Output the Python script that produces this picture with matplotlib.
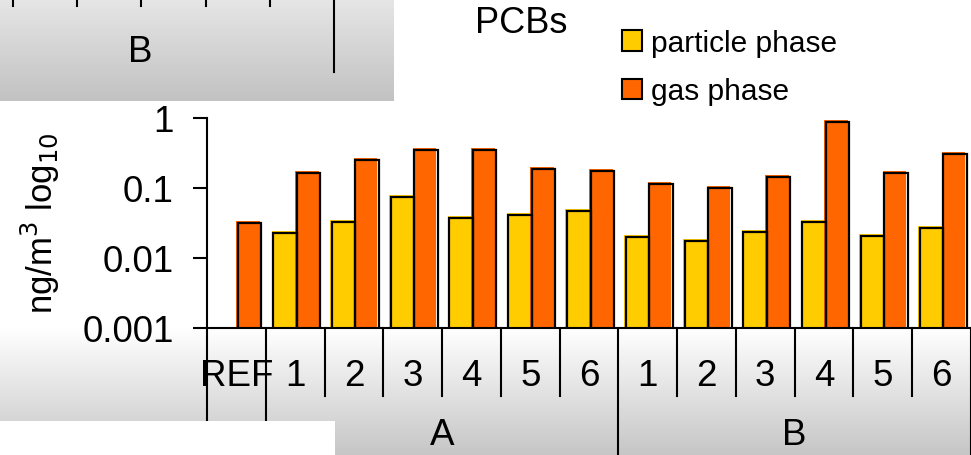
import numpy as np
import matplotlib
matplotlib.use("Agg")
import matplotlib.pyplot as plt
from matplotlib import transforms
from matplotlib.colors import LinearSegmentedColormap
from matplotlib.patches import Rectangle, Patch

plt.rcParams['font.family'] = ['Liberation Sans', 'DejaVu Sans']

# data (ng/m3)
categories = ["REF", "1", "2", "3", "4", "5", "6", "1", "2", "3", "4", "5", "6"]
groups = ["A", "B"]
group_first = [1, 7]
group_last = [6, 12]
particle_phase = [np.nan, 0.0233, 0.0341, 0.0776, 0.0394, 0.0425, 0.0485,
                  0.0200, 0.0175, 0.0243, 0.0338, 0.0213, 0.0277]
gas_phase = [0.0341, 0.177, 0.266, 0.369, 0.369, 0.197, 0.187,
             0.122, 0.107, 0.153, 0.936, 0.175, 0.327]
y_ticks = [0.001, 0.01, 0.1, 1]
y_tick_labels = ["0.001", "0.01", "0.1", "1"]

yellow = "#FFCC00"
orange = "#FF6600"

fig = plt.figure(figsize=(9.71, 4.56), dpi=100)

# background layer in pixel coords (grey gradient boxes + stray fragment)
bg = fig.add_axes([0, 0, 1, 1], zorder=-1)
bg.set_xlim(0, 971)
bg.set_ylim(456, 0)
bg.axis('off')
grad = np.linspace(0, 1, 256).reshape(-1, 1)
cm_top = LinearSegmentedColormap.from_list("top", ["#e6e6e6", "#c2c2c2"])
cm_bot = LinearSegmentedColormap.from_list("bot", ["#ffffff", "#c6c6c6"])
bg.imshow(grad, extent=(0, 394, 102, 0), cmap=cm_top, aspect='auto')
bg.imshow(grad, extent=(0, 971, 456, 329), cmap=cm_bot, aspect='auto')
for xt in [13, 77, 141, 206, 270]:
    bg.plot([xt, xt], [0, 7], color='black', lw=1.5)
bg.plot([334, 334], [0, 73], color='black', lw=1.5)
bg.text(140, 52, "B", fontsize=26.5, ha='center', va='center')

ax = fig.add_axes([207 / 971, 1 - 329 / 456, 764 / 971, 210 / 456])
ax.patch.set_alpha(0)

x = np.arange(len(categories))
w = 0.4
shadow = transforms.offset_copy(ax.transData, fig=fig, x=1.5, y=-2, units='dots')

ax.bar(x - w / 2, particle_phase, w, bottom=0.001, color=yellow, zorder=2)
ax.bar(x + w / 2, np.array(gas_phase) - 0.001, w, bottom=0.001, color=orange, zorder=2)
ax.bar(x - w / 2, particle_phase, w, bottom=0.001, facecolor='none',
       edgecolor='black', lw=1.6, zorder=3, transform=shadow)
ax.bar(x + w / 2, np.array(gas_phase) - 0.001, w, bottom=0.001, facecolor='none',
       edgecolor='black', lw=1.6, zorder=3, transform=shadow)

ax.set_yscale('log')
ax.set_ylim(0.001, 1)
ax.set_xlim(-0.5, len(categories) - 0.5)
ax.set_yticks(y_ticks, y_tick_labels)
ax.minorticks_off()
ax.tick_params(axis='y', labelsize=26.5, length=10, width=1.5, pad=14)
ax.set_xticks([])
for s in ['top', 'right']:
    ax.spines[s].set_visible(False)
for s in ['left', 'bottom']:
    ax.spines[s].set_linewidth(1.5)

# multi-level category axis
tr = transforms.blended_transform_factory(ax.transData, ax.transAxes)
for i, c in enumerate(categories):
    ax.text(i, -0.225, c, transform=tr, fontsize=26.5, ha='center', va='center')
long_lines = [-0.5] + [f - 0.5 for f in group_first] + [group_last[-1] + 0.5]
for b in np.arange(-0.5, len(categories) + 0.5, 1.0):
    y_end = -0.61 if b in long_lines else -0.324
    ax.plot([b, b], [0, y_end], transform=tr, color='black', lw=1.5, clip_on=False)
for g, f, l in zip(groups, group_first, group_last):
    ax.text((f + l) / 2, -0.505, g, transform=tr, fontsize=26.5, ha='center', va='center')

fig.add_artist(Rectangle((0, 0), 335 / 971, 34 / 456, transform=fig.transFigure,
                         facecolor='white', edgecolor='none', zorder=5))

fig.text(40 / 971, 1 - 223 / 456, "ng/m$^3$ log$_{10}$", rotation=90,
         ha='center', va='center', fontsize=25)
fig.text(521 / 971, 1 - 24 / 456, "PCBs", ha='center', va='center', fontsize=26)

handles = [Patch(facecolor=yellow, edgecolor='black', lw=1.5),
           Patch(facecolor=orange, edgecolor='black', lw=1.5)]
fig.legend(handles, ["particle phase", "gas phase"], loc='upper left',
           bbox_to_anchor=(622 / 971, 1 - 30 / 456), frameon=False, fontsize=21.5,
           handlelength=0.67, handleheight=0.67, handletextpad=0.3,
           labelspacing=0.68, borderpad=0, borderaxespad=0)

fig.savefig("out.png", dpi=100)
